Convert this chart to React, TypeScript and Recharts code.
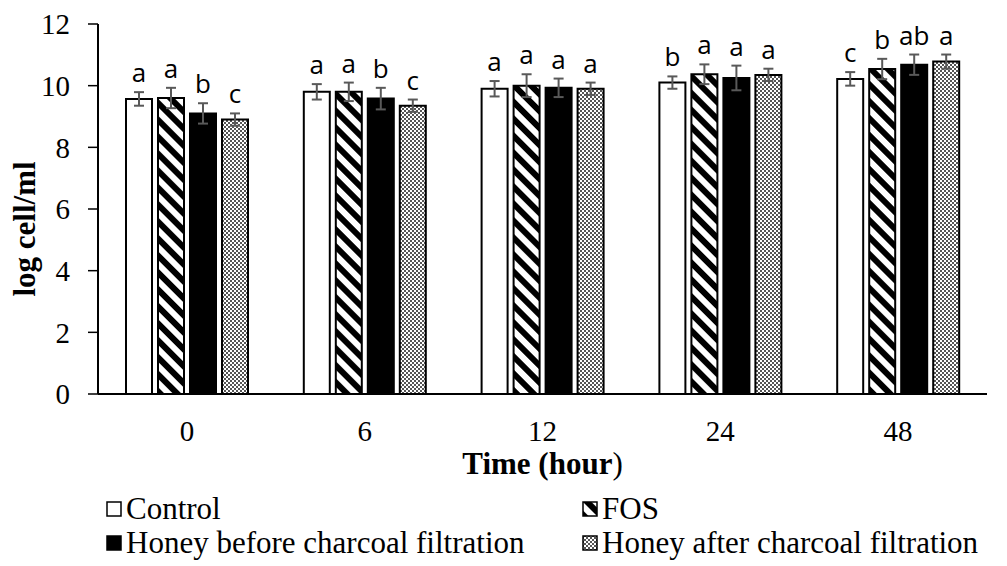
import { BarChart, Bar, XAxis, YAxis, ErrorBar, LabelList } from "recharts";

const hours = ["0", "6", "12", "24", "48"];

const control = [9.57, 9.8, 9.9, 10.1, 10.22];
const controlErr = [0.22, 0.25, 0.25, 0.2, 0.22];
const controlLetters = ["a", "a", "a", "b", "c"];

const fos = [9.6, 9.8, 10.0, 10.37, 10.54];
const fosErr = [0.33, 0.3, 0.37, 0.32, 0.33];
const fosLetters = ["a", "a", "a", "a", "b"];

const honeyBefore = [9.1, 9.58, 9.93, 10.25, 10.68];
const honeyBeforeErr = [0.33, 0.35, 0.3, 0.4, 0.33];
const honeyBeforeLetters = ["b", "b", "a", "a", "ab"];

const honeyAfter = [8.9, 9.35, 9.9, 10.35, 10.78];
const honeyAfterErr = [0.2, 0.2, 0.2, 0.2, 0.23];
const honeyAfterLetters = ["c", "c", "a", "a", "a"];

const yTicks = [0, 2, 4, 6, 8, 10, 12];

const data = hours.map((hour, i) => ({
  hour,
  control: control[i],
  controlErr: controlErr[i],
  fos: fos[i],
  fosErr: fosErr[i],
  honeyBefore: honeyBefore[i],
  honeyBeforeErr: honeyBeforeErr[i],
  honeyAfter: honeyAfter[i],
  honeyAfterErr: honeyAfterErr[i],
}));

const SERIF = "'Liberation Serif', 'Times New Roman', serif";

const series = [
  { key: "control", name: "Control", fill: "#ffffff", errs: controlErr, letters: controlLetters },
  { key: "fos", name: "FOS", fill: "url(#hatch)", errs: fosErr, letters: fosLetters },
  { key: "honeyBefore", name: "Honey before charcoal filtration", fill: "#000000", errs: honeyBeforeErr, letters: honeyBeforeLetters },
  { key: "honeyAfter", name: "Honey after charcoal filtration", fill: "url(#dots)", errs: honeyAfterErr, letters: honeyAfterLetters },
];

function Patterns({ suffix = "" }: { suffix?: string }) {
  return (
    <defs>
      <pattern id={"hatch" + suffix} width="12" height="12" patternUnits="userSpaceOnUse" patternTransform="rotate(-45)">
        <rect width="12" height="12" fill="#fff" />
        <rect width="6" height="12" fill="#000" />
      </pattern>
      <pattern id={"dots" + suffix} width="4" height="4" patternUnits="userSpaceOnUse">
        <rect width="4" height="4" fill="#555" />
        <rect width="2" height="2" fill="#fff" />
        <rect x="2" y="2" width="2" height="2" fill="#fff" />
      </pattern>
    </defs>
  );
}

// letter sits just above the top of the error bar
const letterLabel = (letters: string[], errs: number[]) => (props: any) => {
  const { x, y, width, height, index, value } = props;
  const k = Number(height) / Number(value);
  const top = Number(y) - errs[index] * k;
  return (
    <text
      x={Number(x) + Number(width) / 2}
      y={top - 10}
      textAnchor="middle"
      fontFamily="'Open Sans', sans-serif"
      fontSize={26}
      fill="#000"
    >
      {letters[index]}
    </text>
  );
};

function LegendIcon({ fill }: { fill: string }) {
  return (
    <svg width="16" height="16" style={{ marginRight: 4, flex: "none" }}>
      <Patterns suffix="-lg" />
      <rect x="1" y="1" width="14" height="14" fill={fill.replace(")", "-lg)")} stroke="#000" strokeWidth="1.5" />
    </svg>
  );
}

export default function App() {
  return (
    <div style={{ position: "relative", width: 1007, height: 566, background: "#fff" }}>
      <style>{"body{margin:0}"}</style>
      <BarChart
        width={1007}
        height={566}
        data={data}
        margin={{ top: 24, right: 20, left: 0, bottom: 0 }}
        barCategoryGap={28}
        barGap={6}
      >
        <Patterns />
        <XAxis
          dataKey="hour"
          height={172}
          tickLine={false}
          tickSize={0}
          tickMargin={26}
          axisLine={{ stroke: "#000", strokeWidth: 2 }}
          tick={{ fill: "#000", fontSize: 29, fontFamily: SERIF }}
          label={{
            content: ({ viewBox }: any) => (
              <text
                x={viewBox.x + viewBox.width / 2}
                y={474}
                textAnchor="middle"
                fontFamily={SERIF}
                fontSize={31}
                fill="#000"
              >
                <tspan fontWeight="bold">Time (hour</tspan>
                <tspan>)</tspan>
              </text>
            ),
          }}
        />
        <YAxis
          width={98}
          domain={[0, 12]}
          ticks={yTicks}
          interval={0}
          tickSize={10}
          tickMargin={18}
          axisLine={{ stroke: "#000", strokeWidth: 2 }}
          tickLine={{ stroke: "#000", strokeWidth: 1.5 }}
          tick={{ fill: "#000", fontSize: 29, fontFamily: SERIF }}
          label={{
            content: ({ viewBox }: any) => {
              const cy = viewBox.y + viewBox.height / 2 + 20;
              return (
                <text
                  x={35}
                  y={cy}
                  transform={`rotate(-90 35 ${cy})`}
                  textAnchor="middle"
                  fontFamily={SERIF}
                  fontWeight="bold"
                  fontSize={31}
                  fill="#000"
                >
                  log cell/ml
                </text>
              );
            },
          }}
        />
        {series.map((s) => (
          <Bar
            key={s.key}
            dataKey={s.key}
            name={s.name}
            fill={s.fill}
            stroke="#000"
            strokeWidth={2}
            isAnimationActive={false}
          >
            <ErrorBar
              dataKey={s.key + "Err"}
              width={5}
              stroke="#595959"
              strokeWidth={2}
              isAnimationActive={false}
            />
            <LabelList dataKey={s.key} content={letterLabel(s.letters, s.errs)} />
          </Bar>
        ))}
      </BarChart>
      <div
        style={{
          position: "absolute",
          left: 106,
          top: 492,
          width: 900,
          display: "grid",
          gridTemplateColumns: "476px auto",
          fontFamily: SERIF,
          fontSize: 31,
          lineHeight: "34px",
          color: "#000",
          whiteSpace: "nowrap",
        }}
      >
        {series.map((s) => (
          <div key={s.key} style={{ display: "flex", alignItems: "center" }}>
            <LegendIcon fill={s.fill} />
            <span>{s.name}</span>
          </div>
        ))}
      </div>
    </div>
  );
}
